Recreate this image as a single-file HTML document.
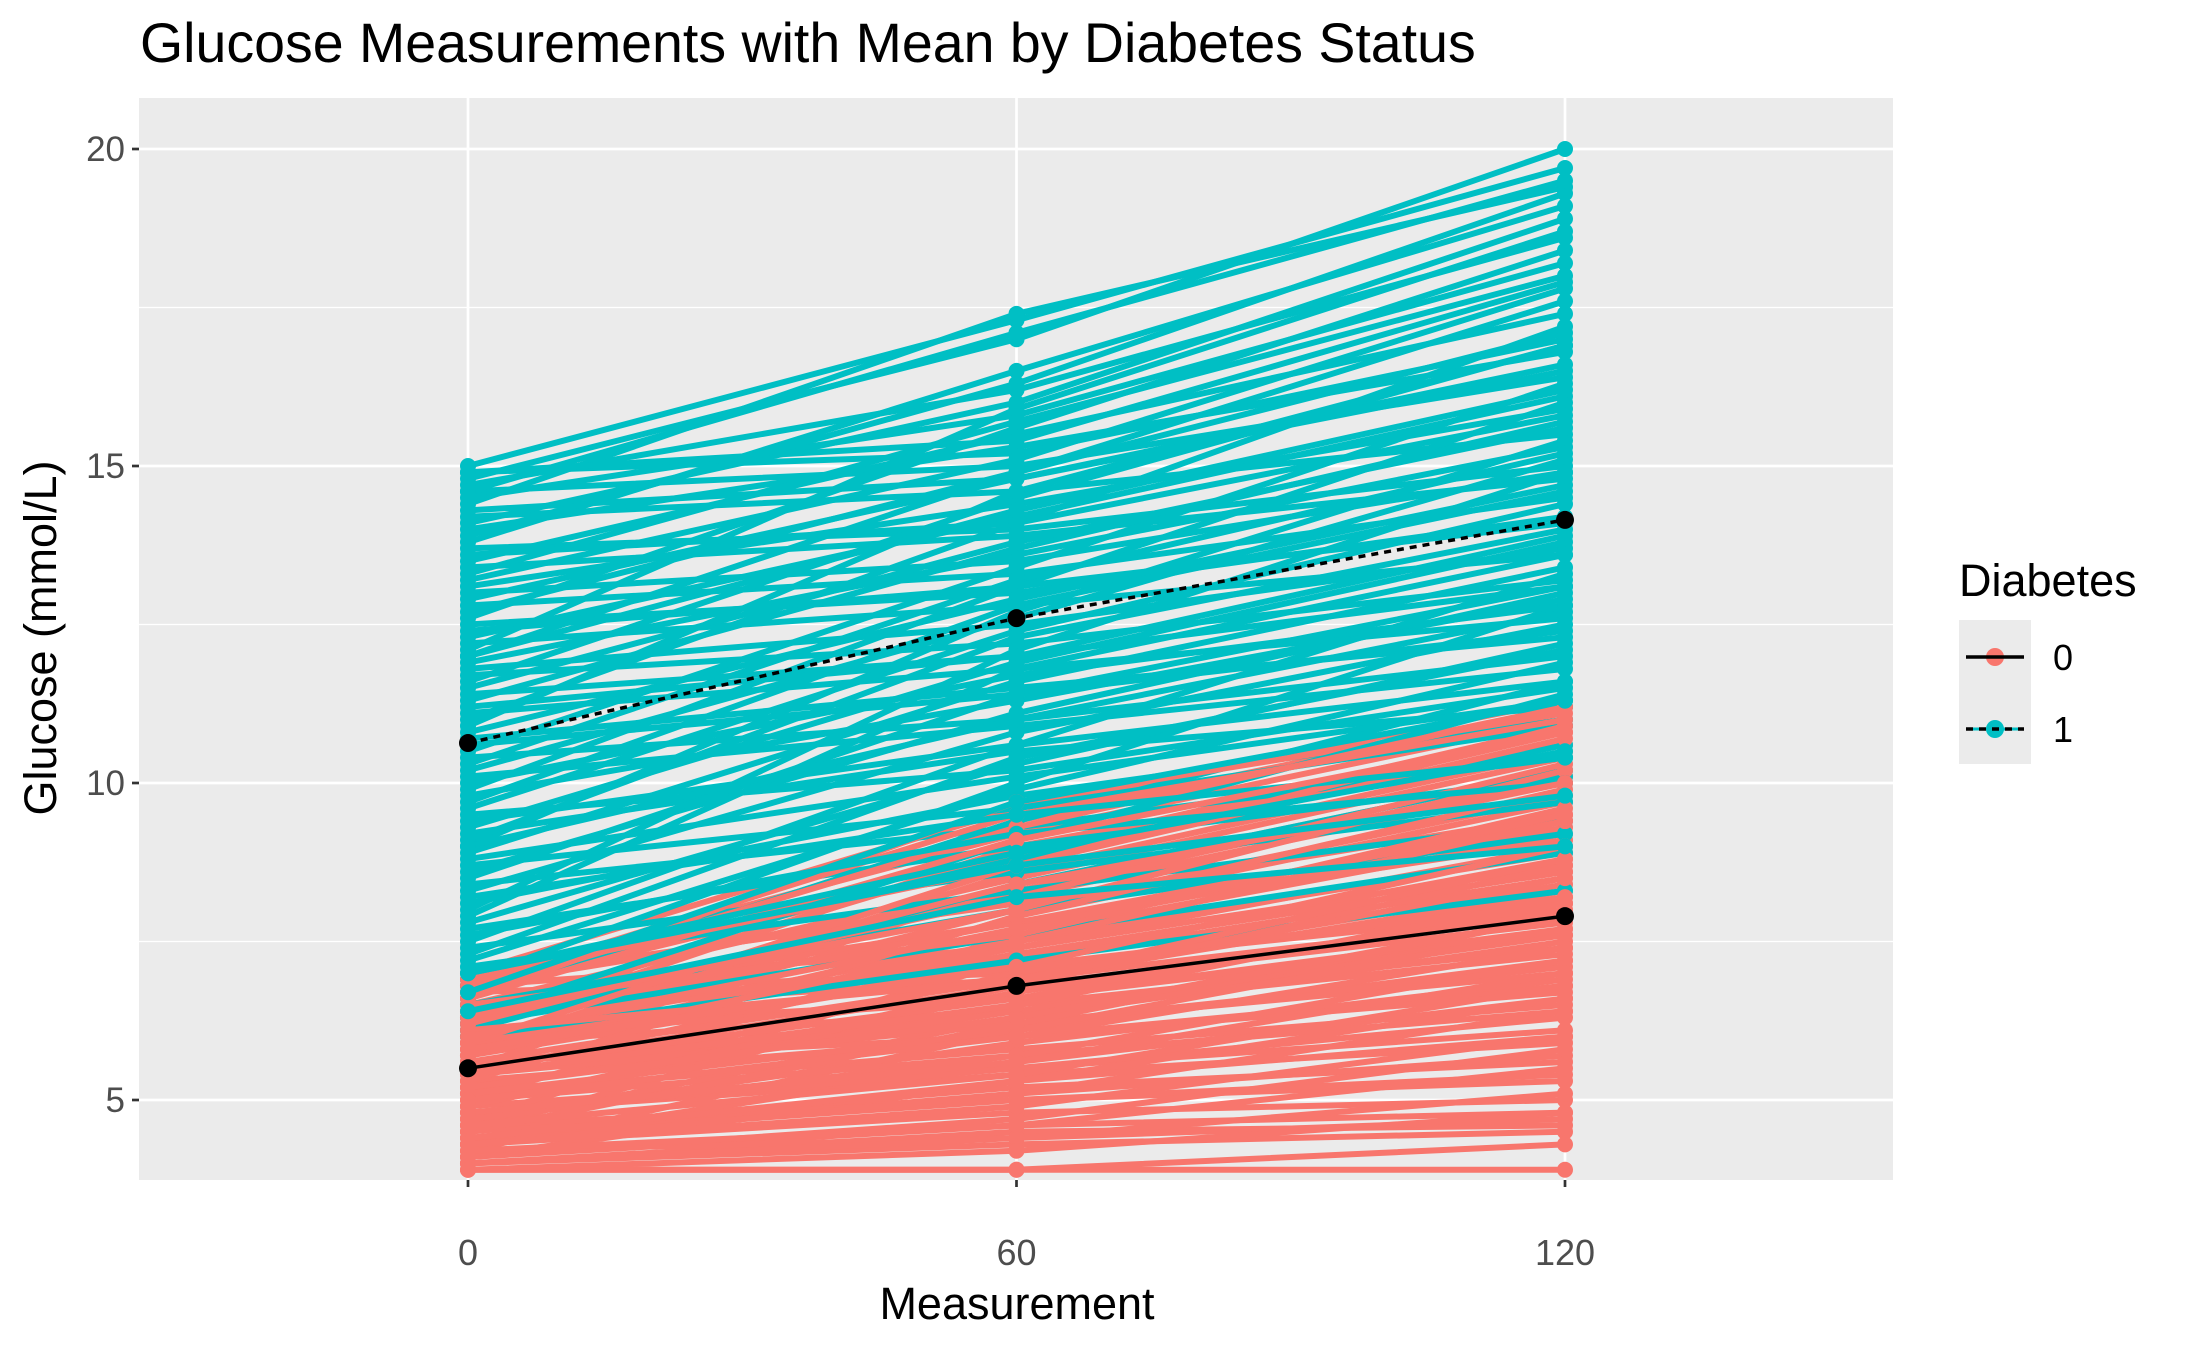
<!DOCTYPE html>
<html><head><meta charset="utf-8"><style>
html,body{margin:0;padding:0;background:#fff;}
svg text{font-family:"Liberation Sans",Arial,sans-serif;}
</style></head><body>
<svg id="chart" width="2187" height="1351" viewBox="0 0 2187 1351" xmlns="http://www.w3.org/2000/svg">
<text x="140" y="62" font-size="55.5" fill="#000">Glucose Measurements with Mean by Diabetes Status</text>
<rect x="139" y="98" width="1754" height="1082" fill="#ebebeb"/>
<g id="grid"></g>
<g id="series"></g>
<g id="axes"></g>
<text x="1017" y="1319" font-size="45" text-anchor="middle" fill="#000">Measurement</text>
<text transform="translate(56,638) rotate(-90)" font-size="45" text-anchor="middle" fill="#000">Glucose (mmol/L)</text>
<g transform="translate(-9,0)">
<text x="1968" y="596" font-size="45" fill="#000">Diabetes</text>
<rect x="1968" y="620" width="72" height="144" fill="#ebebeb"/>
<g>
<line x1="1975" y1="657" x2="2033" y2="657" stroke="#F8766D" stroke-width="3"/>
<circle cx="2004" cy="657" r="9" fill="#F8766D"/>
<line x1="1975" y1="657" x2="2033" y2="657" stroke="#000" stroke-width="3.5"/>
<text x="2062" y="670" font-size="36" fill="#000">0</text>
</g>
<g>
<line x1="1975" y1="729" x2="2033" y2="729" stroke="#00BFC4" stroke-width="3"/>
<circle cx="2004" cy="729" r="9" fill="#00BFC4"/>
<line x1="1975" y1="729" x2="2033" y2="729" stroke="#000" stroke-width="3.5" stroke-dasharray="7 6"/>
<text x="2062" y="742" font-size="36" fill="#000">1</text>
</g>
</g>
</svg>
<script>
const times=[0,60,120];
const xTicks=[0,60,120];
const yTicks=[5,10,15,20];
const yMinor=[7.5,12.5,17.5];
const teal0=[15.0,14.9,14.8,14.7,14.6,14.5,14.4,14.2,14.1,14.0,13.8,13.7,13.5,13.4,13.2,13.1,12.9,12.8,12.6,12.5,12.3,12.2,12.0,11.9,11.7,11.6,11.4,11.3,11.1,11.0,10.8,10.7,10.5,10.4,10.2,10.1,9.9,9.8,9.6,9.5,9.3,9.2,9.0,8.9,8.7,8.6,8.4,8.3,8.1,8.0,7.8,7.7,7.5,7.4,7.2,7.1,6.9,6.8,6.6,6.5,6.3,6.2,6.1,6.0,
14.9,14.3,13.9,13.6,13.3,13.0,12.7,12.4,12.1,11.8,11.5,11.2,10.9,10.6,10.3,10.0,9.7,9.4,9.1,8.8,8.5,8.2,7.9,7.6,7.3,7.0,6.7,6.4,14.6,12.0,9.0,7.0];
const teal60=[17.3,15.2,17.0,16.2,15.0,15.8,17.4,14.6,16.0,15.3,16.5,14.0,15.5,13.9,15.1,14.4,14.8,13.3,15.6,13.0,14.2,12.8,14.9,13.6,12.2,14.5,12.0,13.7,11.8,14.1,12.9,11.5,13.4,11.0,12.6,10.9,13.1,11.3,12.4,10.2,11.9,10.5,12.7,11.6,9.6,11.1,9.3,10.8,9.8,12.1,10.3,9.0,10.6,8.6,9.9,8.3,10.0,8.8,9.4,8.0,9.1,7.6,8.4,7.2,
15.4,14.8,16.3,14.1,15.7,13.5,14.9,13.1,15.9,12.5,13.8,12.0,14.6,11.4,13.2,11.7,12.8,10.6,12.3,10.1,11.4,9.5,11.8,9.2,10.4,8.7,9.7,8.2,17.1,14.3,11.0,8.9];
const teal120=[19.7,17.0,20.0,18.6,16.4,18.2,19.4,15.5,18.9,16.8,19.1,15.0,17.4,14.8,17.8,15.9,16.6,14.5,18.4,14.2,16.1,13.6,17.6,15.3,13.2,16.9,13.9,15.7,12.6,17.2,14.7,12.3,16.3,12.0,15.1,11.8,16.0,12.9,14.4,11.5,13.8,11.2,15.4,13.4,10.9,13.0,10.4,12.5,11.0,14.9,12.2,10.1,13.3,9.7,11.9,9.4,12.8,10.6,11.6,9.2,11.4,8.9,10.2,8.3,
17.9,16.5,19.3,15.8,18.0,14.9,17.1,14.1,18.7,13.7,15.6,13.1,16.9,12.4,15.2,12.8,14.6,11.6,14.0,11.3,13.1,10.4,13.6,10.0,12.1,9.8,11.3,9.0,19.5,16.2,12.7,10.5];
const red0=[7.0,6.9,6.9,6.8,6.7,6.7,6.6,6.5,6.5,6.4,6.3,6.3,6.2,6.1,6.1,6.0,5.9,5.9,5.8,5.7,5.7,5.6,5.5,5.5,5.4,5.3,5.3,5.2,5.1,5.1,5.0,4.9,4.9,4.8,4.7,4.7,4.6,4.5,4.5,4.4,4.3,4.3,4.2,4.1,4.1,4.0,3.9,6.8,6.4,6.0,5.6,5.2,4.8,4.4,4.0,5.8,5.4,5.0,4.6,4.2,6.6,6.2,5.9,3.9,
6.9,6.7,6.5,6.3,6.1,5.9,5.7,5.5,5.3,5.1,4.9,4.7,4.5,4.3,4.1,4.0,6.8,6.4,6.0,5.6,5.2,4.8,4.4,4.2,6.6,6.2,5.8,5.4,5.0,4.6,4.3,3.9];
const red60=[9.6,8.1,9.2,7.4,8.8,7.0,9.4,7.8,8.5,6.9,8.9,7.2,8.3,6.6,9.0,7.5,8.0,6.4,8.6,7.1,7.7,6.2,8.4,6.8,7.3,6.0,7.9,6.5,7.0,5.8,7.6,5.5,6.7,5.4,7.2,5.9,6.3,5.2,6.9,5.0,5.6,4.8,6.1,4.6,5.3,4.3,3.9,8.2,7.1,6.6,6.0,6.4,5.5,5.1,4.5,7.4,6.2,5.7,5.0,4.4,9.7,7.8,7.3,3.9,
8.7,9.3,7.6,8.2,6.9,8.7,7.5,6.6,7.9,6.1,6.8,5.7,6.2,5.1,4.7,4.4,9.5,8.0,7.7,6.9,6.3,5.6,5.3,4.6,9.1,8.4,7.1,6.5,6.0,5.4,4.9,4.2];
const red120=[11.3,9.5,11.0,8.7,10.8,8.2,11.2,9.1,10.4,7.9,10.9,8.5,10.1,7.6,10.6,8.9,9.8,7.3,10.5,8.0,9.3,7.0,10.2,7.8,8.6,6.8,9.7,7.4,8.4,6.5,9.2,6.1,8.0,5.9,8.8,6.9,7.5,5.6,8.3,5.3,6.6,5.0,7.2,4.8,6.0,4.5,4.3,10.0,8.1,7.7,6.7,7.6,6.3,5.7,4.6,9.0,7.1,6.4,5.4,4.7,11.1,9.4,8.6,3.9,
10.7,11.2,9.6,10.3,8.8,10.9,9.4,8.1,9.9,7.7,8.7,7.2,7.9,6.4,5.8,5.1,11.0,10.2,9.5,8.5,7.9,7.0,6.6,5.5,10.8,10.0,9.0,8.2,7.4,6.8,6.0,4.8];
const mean0=[5.5,6.8,7.9];
const mean1=[10.63,12.6,14.15];

const NS="http://www.w3.org/2000/svg";
function xs(v){return 468+(v-0)*(1565-468)/120;}
function ys(v){return 1100-(v-5)*(1100-149)/15;}
function mk(tag,attrs,parent){const e=document.createElementNS(NS,tag);for(const k in attrs)e.setAttribute(k,attrs[k]);parent.appendChild(e);return e;}
const grid=document.getElementById('grid'),series=document.getElementById('series'),axes=document.getElementById('axes');
yMinor.forEach(v=>{const l=mk('line',{x1:139,x2:1893,y1:ys(v),y2:ys(v),stroke:'#fff','stroke-width':1.3},grid);

});
yTicks.forEach(v=>{const l=mk('line',{x1:139,x2:1893,y1:ys(v),y2:ys(v),stroke:'#fff','stroke-width':2.7},grid);


const t=mk('line',{x1:132,x2:139,y1:ys(v),y2:ys(v),stroke:'#333','stroke-width':2.7},axes);


const tx=mk('text',{x:125,y:ys(v)+12,'font-size':35,'text-anchor':'end',fill:'#4d4d4d'},axes);tx.textContent=v;

});
xTicks.forEach(v=>{const l=mk('line',{x1:xs(v),x2:xs(v),y1:98,y2:1180,stroke:'#fff','stroke-width':2.7},grid);


const t=mk('line',{x1:xs(v),x2:xs(v),y1:1180,y2:1187,stroke:'#333','stroke-width':2.7},axes);


const tx=mk('text',{x:xs(v),y:1265,'font-size':36,'text-anchor':'middle',fill:'#4d4d4d'},axes);tx.textContent=v;

});
function subject(vals,color,name){
  const g=mk('g',{},series);
  
  
  mk('polyline',{points:vals.map((v,i)=>xs(times[i])+','+ys(v)).join(' '),fill:'none',stroke:color,'stroke-width':6},g);
  vals.forEach((v,i)=>mk('circle',{cx:xs(times[i]),cy:ys(v),r:8,fill:color},g));
}
for(let i=0;i<teal0.length;i++){
  subject([red0[i],red60[i],red120[i]],'#F8766D','subject-line-diabetes-0');
  subject([teal0[i],teal60[i],teal120[i]],'#00BFC4','subject-line-diabetes-1');
}
function meanLine(vals,dash,name){
  const g=mk('g',{},series);
  
  
  const a={points:vals.map((v,i)=>xs(times[i])+','+ys(v)).join(' '),fill:'none',stroke:'#000','stroke-width':3.5};
  if(dash)a['stroke-dasharray']='7 6';
  mk('polyline',a,g);
  vals.forEach((v,i)=>mk('circle',{cx:xs(times[i]),cy:ys(v),r:9,fill:'#000'},g));
}
meanLine(mean0,false,'mean-line-diabetes-0');
meanLine(mean1,true,'mean-line-diabetes-1');
</script>
</body></html>
